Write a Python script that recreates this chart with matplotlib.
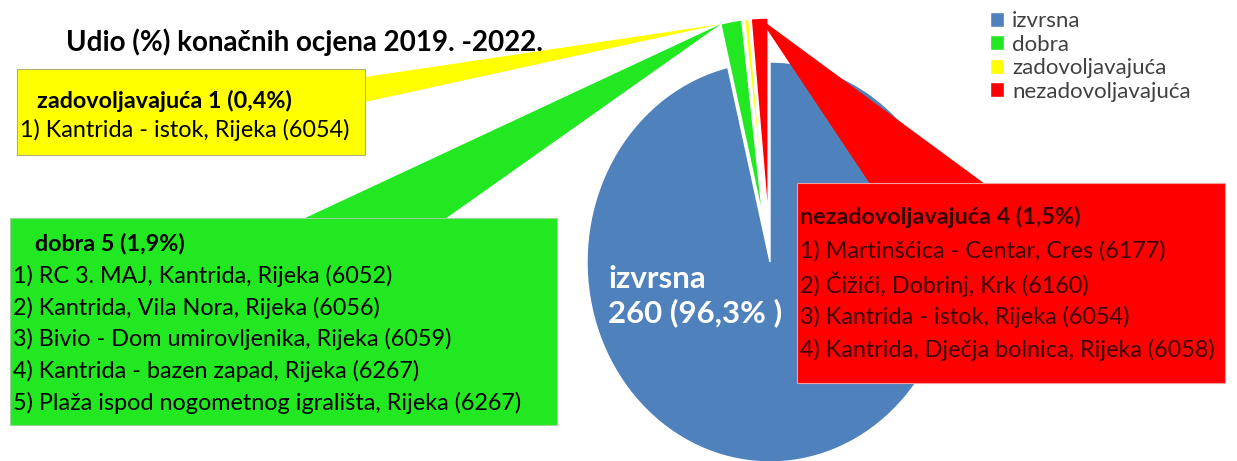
import numpy as np
import matplotlib.pyplot as plt
from matplotlib.patches import Rectangle, Polygon
from matplotlib.transforms import Affine2D

plt.rcParams['font.family'] = ['Lato', 'DejaVu Sans']

# data
categories = ['izvrsna', 'dobra', 'zadovoljavajuća', 'nezadovoljavajuća']
counts = [260, 5, 1, 4]
colors = ['#4f81bd', '#22e822', '#ffff00', '#ff0000']

title = 'Udio (%) konačnih ocjena 2019. -2022.'
izvrsna_label = 'izvrsna\n260 (96,3% )'
zad_title = 'zadovoljavajuća 1 (0,4%)'
zad_sites = ['1) Kantrida - istok, Rijeka (6054)']
dobra_title = 'dobra 5 (1,9%)'
dobra_sites = ['1) RC 3. MAJ, Kantrida, Rijeka (6052)',
               '2) Kantrida, Vila Nora, Rijeka (6056)',
               '3) Bivio - Dom umirovljenika, Rijeka (6059)',
               '4) Kantrida - bazen zapad, Rijeka (6267)',
               '5) Plaža ispod nogometnog igrališta, Rijeka (6267)']
nez_title = 'nezadovoljavajuća 4 (1,5%)'
nez_sites = ['1) Martinšćica - Centar, Cres (6177)',
             '2) Čižići, Dobrinj, Krk (6160)',
             '3) Kantrida - istok, Rijeka (6054)',
             '4) Kantrida, Dječja bolnica, Rijeka (6058)']

W, H = 1237, 461
fig = plt.figure(figsize=(W / 100, H / 100), dpi=100)
ax = fig.add_axes([0, 0, 1, 1])


def iy(y):
    # image row -> data y
    return H - y


# pie, slightly squashed horizontally like the original screenshot
cx, cy, r = 770, iy(262), 200
sx = 0.915
wedges, _ = ax.pie(counts, colors=colors, startangle=90, counterclock=False,
                   explode=[0, 44, 44, 44], center=(cx, cy), radius=r,
                   wedgeprops=dict(edgecolor='white', linewidth=1))
squash = Affine2D().translate(-cx, -cy).scale(sx, 1).translate(cx, cy)
for w in wedges:
    w.set_transform(squash + ax.transData)
    w.set_zorder(1)
ax.set_xlim(0, W)
ax.set_ylim(0, H)
ax.set_aspect('auto')
ax.axis('off')


def tip(w, th):
    p = np.array(w.center) + w.r * np.array([np.cos(np.radians(th)), np.sin(np.radians(th))])
    return squash.transform(p)


g, yl, rd = wedges[1], wedges[2], wedges[3]
o_green = tip(g, g.theta2)
o_yel = tip(g, g.theta2)
o_red = tip(rd, 0.5 * (rd.theta1 + rd.theta2))

# callout leaders
ax.add_patch(Polygon([o_yel, (365, iy(77)), (365, iy(102))], closed=True,
                     facecolor=colors[2], edgecolor='none', zorder=2))
ax.add_patch(Polygon([o_green, (303, iy(219)), (445, iy(219))], closed=True,
                     facecolor=colors[1], edgecolor='none', zorder=2))
ax.add_patch(Polygon([o_red, (870, iy(184)), (985, iy(184))], closed=True,
                     facecolor=colors[3], edgecolor='none', zorder=2))

# callout boxes
def box(x0, y0, x1, y1, fc, ec):
    ax.add_patch(Rectangle((x0, iy(y1)), x1 - x0, y1 - y0, facecolor=fc,
                           edgecolor=ec, linewidth=0.8, zorder=3))

box(17, 69, 365, 155, colors[2], '#b0b070')
box(10, 218, 557, 425, colors[1], '#9ad09a')
box(797, 183, 1225, 383, colors[3], '#f0a0a0')

fs = 16.8
ax.text(37, iy(101), zad_title, fontsize=fs, fontweight='bold', va='center', zorder=4)
for i, s in enumerate(zad_sites):
    ax.text(20, iy(130 + 30 * i), s, fontsize=fs, va='center', zorder=4)

ax.text(35, iy(244), dobra_title, fontsize=fs, fontweight='bold', va='center', zorder=4)
for i, s in enumerate(dobra_sites):
    ax.text(13, iy(276 + 31.7 * i), s, fontsize=fs, va='center', zorder=4)

ax.text(800, iy(217), nez_title, fontsize=fs, fontweight='bold', va='center',
        color='#3a0000', zorder=4)
for i, s in enumerate(nez_sites):
    ax.text(800, iy(251 + 33 * i), s, fontsize=fs, va='center', color='#3a0000', zorder=4)

ax.text(608, iy(296), izvrsna_label, fontsize=22.5, fontweight='bold', color='white',
        va='center', linespacing=1.2, zorder=4)

ax.text(66, iy(42), title, fontsize=20, fontweight='bold', va='center', zorder=4)

ax.legend(wedges, categories, loc='upper left', bbox_to_anchor=(990 / W, 1 - 11 / H),
          frameon=False, handlelength=0.65, handleheight=0.65, handletextpad=0.35,
          labelspacing=0.16, fontsize=16, borderaxespad=0, borderpad=0,
          labelcolor='#404040')

fig.savefig('out.png', dpi=100)
